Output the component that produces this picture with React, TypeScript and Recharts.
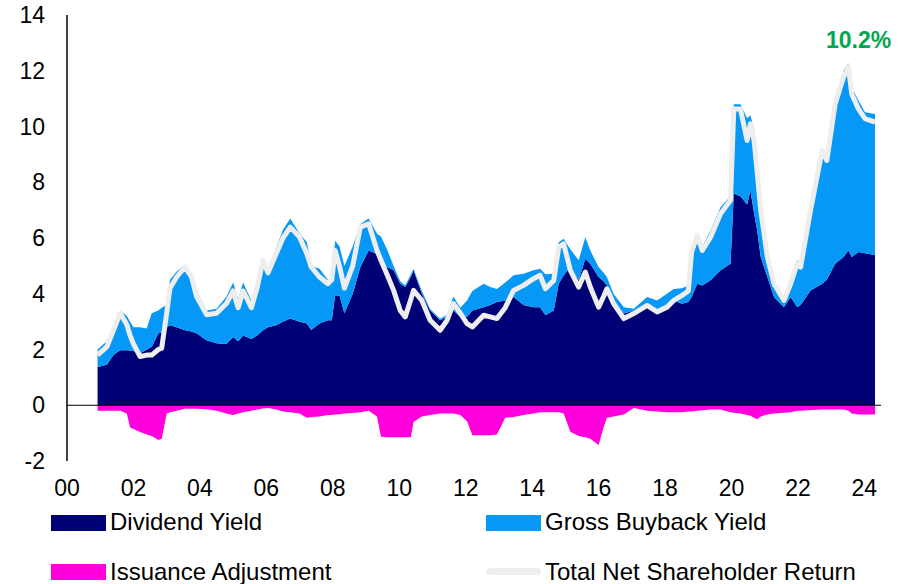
import { ComposedChart, Area, Line, XAxis, YAxis, ReferenceLine } from "recharts"

// years since 2000 at the turning points
const years = [
  0.92, 1.2, 1.4, 1.6, 1.8, 1.9, 2.0, 2.2, 2.4, 2.55, 2.75, 2.85, 3.0, 3.1, 3.3, 3.55, 3.75, 3.9,
  4.2, 4.5, 4.8, 5.0, 5.15, 5.3, 5.55, 5.72, 5.9, 6.05, 6.3, 6.5, 6.72, 7.0, 7.22, 7.35, 7.6, 7.85,
  7.97, 8.07, 8.2, 8.35, 8.6, 8.83, 9.08, 9.33, 9.45, 9.63, 9.83, 10.03, 10.18, 10.35, 10.43, 10.68,
  10.93, 11.23, 11.44, 11.63, 11.84, 12.04, 12.2, 12.54, 12.74, 12.94, 13.19, 13.44, 13.74, 14.04,
  14.24, 14.4, 14.65, 14.8, 14.95, 15.15, 15.4, 15.6, 15.75, 16.0, 16.15, 16.25, 16.45, 16.76, 17.06,
  17.46, 17.76, 18.06, 18.26, 18.51, 18.7, 18.8, 18.97, 19.12, 19.37, 19.67, 19.97, 20.07, 20.27,
  20.47, 20.57, 20.68, 20.77, 20.88, 21.08, 21.28, 21.58, 21.78, 21.98, 22.08, 22.38, 22.73, 22.87,
  23.12, 23.37, 23.52, 23.62, 23.82, 24.02, 24.32,
]

const dividendYield = [
  1.37, 1.45, 1.8, 1.97, 1.97, 1.96, 1.95, 1.86, 2.0, 2.1, 2.58, 2.6, 2.8, 2.87, 2.8, 2.69, 2.65, 2.58,
  2.33, 2.22, 2.2, 2.45, 2.3, 2.5, 2.38, 2.5, 2.69, 2.8, 2.87, 3.0, 3.11, 3.0, 2.93, 2.7, 2.93, 3.05,
  3.05, 3.94, 3.94, 3.3, 4.0, 4.96, 5.55, 5.43, 5.3, 4.96, 4.84, 4.36, 4.24, 4.6, 4.84, 4.0,
  3.4, 3.05, 3.17, 3.4, 3.17, 3.17, 3.4, 3.52, 3.6, 3.7, 3.76, 3.88, 3.6, 3.52,
  3.52, 3.23, 3.4, 4.36, 4.66, 4.96, 4.48, 5.26, 5.08, 4.6, 4.45, 4.3, 3.76, 3.29, 3.4,
  3.52, 3.4, 3.64, 3.76, 3.64, 3.7, 3.88, 4.36, 4.3, 4.48, 4.84, 5.08, 7.6, 7.5,
  7.2, 7.7, 6.9, 6.3, 5.32, 4.6, 3.88, 3.52, 3.88, 3.52, 3.6, 4.12, 4.36, 4.5,
  5.08, 5.32, 5.55, 5.32, 5.5, 5.45, 5.39,
]

const buybackYield = [
  0.63, 0.85, 1.0, 1.43, 1.23, 1.04, 0.85, 0.94, 0.75, 1.2, 0.82, 0.9, 0.8, 1.63, 2.0, 2.35, 2.05, 1.52,
  1.07, 1.24, 1.7, 1.95, 1.5, 1.9, 1.38, 2.0, 2.61, 2.0, 2.8, 3.3, 3.59, 3.16, 2.92, 2.3, 1.97, 1.45,
  1.45, 1.96, 1.76, 1.7, 1.7, 1.54, 1.15, 0.72, 0.75, 0.64, 0.16, 0.09, 0.06, 0.1, 0.06, 0.1,
  0.05, 0.05, 0.08, 0.5, 0.33, 0.59, 0.7, 0.84, 0.64, 0.47, 0.64, 0.78, 1.12, 1.32,
  1.38, 1.47, 1.32, 1.49, 1.31, 0.64, 0.72, 0.77, 0.47, 0.36, 0.3, 0.3, 0.24, 0.23, 0.06,
  0.36, 0.36, 0.36, 0.41, 0.56, 0.6, 1.82, 1.84, 1.4, 1.79, 2.26, 2.42, 3.2, 3.3,
  3.1, 2.7, 3.0, 2.5, 2.03, 0.95, 0.6, 0.36, 0.72, 1.68, 1.5, 3.08, 4.84, 4.4,
  5.85, 6.68, 6.72, 6.08, 5.43, 5.06, 5.06,
]

const issuanceAdjustment = [
  -0.2, -0.2, -0.2, -0.2, -0.3, -0.8, -0.85, -0.96, -1.05, -1.1, -1.25, -1.2, -0.3, -0.25, -0.2, -0.13, -0.13, -0.13,
  -0.14, -0.2, -0.3, -0.35, -0.3, -0.25, -0.2, -0.15, -0.12, -0.1, -0.15, -0.22, -0.25, -0.3, -0.45, -0.42, -0.4, -0.35,
  -0.35, -0.33, -0.32, -0.3, -0.28, -0.25, -0.2, -0.4, -1.13, -1.15, -1.15, -1.15, -1.15, -1.15, -0.6, -0.4,
  -0.35, -0.3, -0.3, -0.3, -0.35, -0.57, -1.08, -1.08, -1.08, -1.05, -0.45, -0.42, -0.35, -0.3,
  -0.25, -0.25, -0.25, -0.25, -0.3, -0.95, -1.1, -1.15, -1.2, -1.43, -0.8, -0.45, -0.4, -0.33, -0.1,
  -0.2, -0.22, -0.25, -0.25, -0.25, -0.22, -0.22, -0.2, -0.18, -0.15, -0.15, -0.25, -0.27, -0.3,
  -0.35, -0.38, -0.45, -0.5, -0.4, -0.33, -0.3, -0.27, -0.25, -0.2, -0.2, -0.17, -0.15, -0.15,
  -0.15, -0.15, -0.2, -0.3, -0.33, -0.33, -0.33,
]

const totalNetReturn = [
  1.8, 2.1, 2.7, 3.3, 2.9, 2.5, 2.2, 1.75, 1.8, 1.8, 2.0, 2.05, 3.3, 4.2, 4.6, 4.96, 4.6, 3.9,
  3.25, 3.3, 3.65, 4.1, 3.5, 4.1, 3.5, 4.2, 5.2, 4.75, 5.44, 6.0, 6.39, 6.03, 5.44, 4.96, 4.6, 4.36,
  4.5, 5.55, 5.0, 4.2, 5.0, 6.39, 6.51, 5.55, 5.2, 4.7, 4.12, 3.4, 3.17, 3.8, 4.12, 3.76,
  3.05, 2.69, 3.05, 3.65, 3.3, 2.93, 2.81, 3.23, 3.17, 3.11, 3.5, 4.12, 4.3, 4.54,
  4.66, 4.18, 4.48, 5.67, 5.79, 4.84, 4.24, 4.78, 4.24, 3.52, 3.9, 4.18, 3.65, 3.11, 3.29,
  3.58, 3.35, 3.52, 3.76, 3.94, 4.1, 5.5, 6.09, 5.55, 6.03, 6.87, 7.35, 10.63, 10.63,
  9.5, 10.1, 9.5, 8.4, 7.0, 5.32, 4.36, 3.76, 4.36, 5.08, 4.96, 7.0, 9.14, 8.78,
  10.81, 11.77, 12.13, 11.17, 10.63, 10.28, 10.16,
]

const xTicks = [0, 2, 4, 6, 8, 10, 12, 14, 16, 18, 20, 22, 24]
const yTicks = [-2, 0, 2, 4, 6, 8, 10, 12, 14]

const data = years.map((t, i) => ({
  t,
  dividend: dividendYield[i],
  buyback: buybackYield[i],
  issuance: issuanceAdjustment[i],
  total: totalNetReturn[i],
}))

const NAVY = "#000077"
const LIGHT_BLUE = "#0598f7"
const PINK = "#ff00dc"
const LINE_GREY = "#eeeeee"
const FONT = "'Liberation Sans', Arial, sans-serif"

const legendText = { position: "absolute" as const, fontSize: 24, lineHeight: "24px", color: "#000" }
const swatch = { position: "absolute" as const, width: 55, height: 16 }

export default function App() {
  return (
    <div style={{ position: "absolute", left: 0, top: 0, width: 906, height: 584, background: "#fff", fontFamily: FONT, overflow: "hidden" }}>
      <ComposedChart
        width={906}
        height={500}
        data={data}
        margin={{ top: 15, right: 25, left: 0, bottom: 9 }}
        style={{ fontFamily: FONT }}
      >
        <XAxis
          dataKey="t"
          type="number"
          domain={[0, 24.5]}
          ticks={xTicks}
          tickFormatter={(v) => String(v).padStart(2, "0")}
          axisLine={false}
          tickLine={false}
          tickSize={0}
          tickMargin={19}
          height={30}
          tick={{ fill: "#000", fontSize: 23 }}
          allowDataOverflow
        />
        <YAxis
          domain={[-2, 14]}
          ticks={yTicks}
          width={67}
          axisLine={{ stroke: "#000", strokeWidth: 1.5 }}
          tickLine={false}
          tickSize={0}
          tickMargin={22}
          tick={{ fill: "#000", fontSize: 23 }}
          allowDataOverflow
        />
        <Area type="linear" dataKey="issuance" fill={PINK} fillOpacity={1} stroke="none" baseValue={0} isAnimationActive={false} />
        <Area type="linear" dataKey="dividend" stackId="a" fill={NAVY} fillOpacity={1} stroke="none" isAnimationActive={false} />
        <Area type="linear" dataKey="buyback" stackId="a" fill={LIGHT_BLUE} fillOpacity={1} stroke="none" isAnimationActive={false} />
        <ReferenceLine y={0} stroke="#000" strokeWidth={1.2} />
        <Line
          type="linear"
          dataKey="total"
          stroke={LINE_GREY}
          strokeWidth={5}
          strokeLinejoin="round"
          dot={false}
          isAnimationActive={false}
        />
      </ComposedChart>

      <div style={{ position: "absolute", left: 826, top: 29, fontSize: 23, lineHeight: "23px", fontWeight: 700, color: "#00a651" }}>
        10.2%
      </div>

      <div style={{ ...swatch, left: 51, top: 515, background: NAVY }} />
      <div style={{ ...legendText, left: 110, top: 510 }}>Dividend Yield</div>
      <div style={{ ...swatch, left: 486, top: 515, background: LIGHT_BLUE }} />
      <div style={{ ...legendText, left: 545, top: 510 }}>Gross Buyback Yield</div>

      <div style={{ ...swatch, left: 51, top: 564, background: PINK }} />
      <div style={{ ...legendText, left: 110, top: 560 }}>Issuance Adjustment</div>
      <div style={{ position: "absolute", left: 486, top: 568, width: 55, height: 7, borderRadius: 4, background: LINE_GREY }} />
      <div style={{ ...legendText, left: 545, top: 560 }}>Total Net Shareholder Return</div>
    </div>
  )
}
